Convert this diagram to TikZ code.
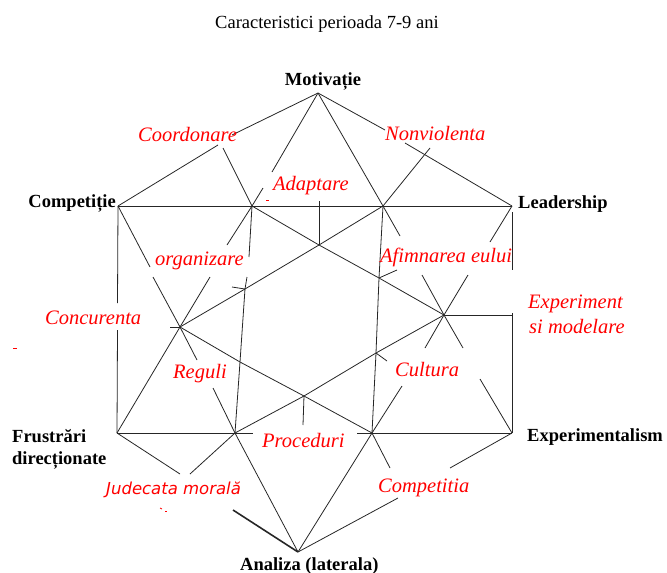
\documentclass[tikz,border=0pt]{standalone}
\usepackage{fontspec}
\setmainfont{Liberation Serif}
\newfontfamily\sansit{DejaVu Sans}
\begin{document}
\begin{tikzpicture}[x=1pt,y=-1pt,
  ln/.style={line width=0.8pt, black!85},
  thk/.style={line width=1.6pt, black!85},
  vlab/.style={font=\bfseries\fontsize{18.5}{21}\selectfont, inner sep=0pt},
  rlab/.style={font=\itshape\fontsize{20.5}{22}\selectfont, text=red, inner sep=0pt},
  slab/.style={font=\sansit\itshape\fontsize{16.5}{18}\selectfont, text=red, inner sep=0pt},
  redmark/.style={red, line width=0.8pt}]
\useasboundingbox (0,0) rectangle (667,573);
% outer vertices
\coordinate (M) at (318,93);
\coordinate (L) at (512,206);
\coordinate (C) at (118,206);
\coordinate (F) at (117,433);
\coordinate (E) at (512,433);
\coordinate (A) at (298,552);
% star points
\coordinate (P1) at (252,206);
\coordinate (P2) at (383,206);
\coordinate (P3) at (319,245);
\coordinate (P4) at (379,278);
\coordinate (P5) at (444,315);
\coordinate (P6) at (245,289);
\coordinate (P7) at (180,327);
\coordinate (P8) at (240,362);
\coordinate (P9) at (304,396);
\coordinate (P10) at (376,353);
\coordinate (P11) at (235,433);
\coordinate (P12) at (372,433);
% gap ends
\coordinate (mc1) at (232,135); \coordinate (mc2) at (218,145);
\coordinate (ml1) at (385,130); \coordinate (ml2) at (405,143);
\coordinate (me1) at (400,236); \coordinate (me2) at (422,275);
\coordinate (me3) at (463,348); \coordinate (me4) at (480,379);
\coordinate (mf1) at (272,172); \coordinate (mf2) at (263,188);
\coordinate (mf3) at (227,245); \coordinate (mf4) at (210,277);
\coordinate (ca1) at (150,267); \coordinate (ca2) at (153,277);
\coordinate (ca3) at (197,360); \coordinate (ca4) at (213,388);
\coordinate (la1) at (490,242); \coordinate (la2) at (468,275);
\coordinate (la3) at (425,348); \coordinate (la4) at (402,386);
\coordinate (fe1) at (253,433); \coordinate (fe2) at (357,433);
\coordinate (cf1) at (117.5,303); \coordinate (cf2) at (117.5,330);
\coordinate (le0) at (512,212); \coordinate (le1) at (512,270); \coordinate (le2) at (512,313);
\coordinate (ea1) at (450,468); \coordinate (ea2) at (398,498);
\coordinate (fa1) at (180,474); \coordinate (fa2) at (233,510);
\coordinate (v1) at (249,257); \coordinate (v2) at (247,277);
% ray ends
\coordinate (r1) at (223,148);
\coordinate (r2) at (430,148);
\coordinate (r3) at (319,201);
\coordinate (r4) at (303,425);
\coordinate (r5) at (512,315);
\coordinate (r6) at (170,327);
\coordinate (r7) at (232,287);
\coordinate (r8) at (397,270);
\coordinate (r9) at (387,361);
\coordinate (r10) at (190,474);
\coordinate (r11) at (390,468);

% hexagon edges
\draw[ln] (M) -- (mc1); \draw[ln] (mc2) -- (C);
\draw[ln] (M) -- (ml1); \draw[ln] (ml2) -- (L);
\draw[ln] (C) -- (L);
\draw[ln] (F) -- (fe1); \draw[ln] (fe2) -- (E);
\draw[ln] (C) -- (cf1); \draw[ln] (cf2) -- (F);
\draw[ln] (le0) -- (le1); \draw[ln] (le2) -- (E);
\draw[ln] (E) -- (ea1); \draw[ln] (ea2) -- (A);
\draw[ln] (F) -- (fa1); \draw[thk] (fa2) -- (A);
% long diagonals
\draw[ln] (M) -- (P2) -- (me1); \draw[ln] (me2) -- (P5) -- (me3); \draw[ln] (me4) -- (E);
\draw[ln] (M) -- (mf1); \draw[ln] (mf2) -- (P1) -- (mf3); \draw[ln] (mf4) -- (P7) -- (F);
\draw[ln] (C) -- (ca1); \draw[ln] (ca2) -- (P7) -- (ca3); \draw[ln] (ca4) -- (P11) -- (A);
\draw[ln] (L) -- (la1); \draw[ln] (la2) -- (P5) -- (la3); \draw[ln] (la4) -- (P12) -- (A);
% hexagram
\draw[ln] (P1) -- (P3) -- (P4) -- (P5);
\draw[ln] (P5) -- (P10) -- (P9) -- (P11);
\draw[ln] (P1) -- (v1); \draw[ln] (v2) -- (P6) -- (P8) -- (P11);
\draw[ln] (P2) -- (P3) -- (P6) -- (P7);
\draw[ln] (P7) -- (P8) -- (P9) -- (P12);
\draw[ln] (P2) -- (P4) -- (P10) -- (P12);
% rays and stubs
\draw[ln] (P1) -- (r1);
\draw[ln] (P2) -- (r2);
\draw[ln] (P3) -- (r3);
\draw[ln] (P9) -- (r4);
\draw[ln] (P5) -- (r5);
\draw[ln] (P7) -- (r6);
\draw[ln] (P6) -- (r7);
\draw[ln] (P4) -- (r8);
\draw[ln] (P10) -- (r9);
\draw[ln] (P11) -- (r10);
\draw[ln] (P12) -- (r11);

% title
\node[font=\fontsize{18.5}{21}\selectfont, inner sep=0pt, anchor=base west] (title) at (215,28) {Caracteristici perioada 7-9 ani};
% vertex labels
\node[vlab, anchor=base] (tM) at (323,85) {Motivație};
\node[vlab, anchor=base east] (tC) at (116,207) {Competiție};
\node[vlab, anchor=base west] (tL) at (518,208) {Leadership};
\node[vlab, anchor=base west] (tF1) at (12,442) {Frustrări};
\node[vlab, anchor=base west] (tF2) at (12,464) {direcționate};
\node[vlab, anchor=base west] (tE) at (527,441) {Experimentalism};
\node[vlab, anchor=base west] (tA) at (240,570) {Analiza (laterala)};
% red labels
\node[rlab, anchor=base west] (lCoord) at (138,141) {Coordonare};
\node[rlab, anchor=base west] (lAdapt) at (273,190) {Adaptare};
\node[rlab, anchor=base west] (lNonv) at (385,140) {Nonviolenta};
\node[rlab, anchor=base west] (lOrg) at (155,265) {organizare};
\node[rlab, anchor=base west] (lAfim) at (380,262) {Afimnarea eului};
\node[rlab, anchor=base west] (lConc) at (45,324) {Concurenta};
\node[rlab, anchor=base west] (lExp1) at (528,308) {Experiment};
\node[rlab, anchor=base west] (lExp2) at (529,333) {si modelare};
\node[rlab, anchor=base west] (lReg) at (173,378) {Reguli};
\node[rlab, anchor=base west] (lCult) at (395,376) {Cultura};
\node[rlab, anchor=base west] (lProc) at (262,447) {Proceduri};
\node[slab, anchor=base west] (lJud) at (106,494) {Judecata morală};
\node[rlab, anchor=base west] (lComp) at (378,492) {Competitia};
% small red marks
\draw[redmark] (13,348) -- (17,348);
\draw[redmark] (266,200) -- (269,200);
\draw[redmark] (160,508) -- (162,509);
\draw[redmark] (165,511) -- (167,511);
\end{tikzpicture}
\end{document}
